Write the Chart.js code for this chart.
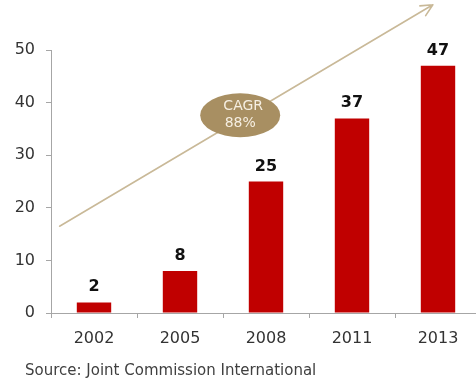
<!DOCTYPE html>
<html>
<head>
<meta charset="utf-8">
<script src="https://cdn.jsdelivr.net/npm/chart.js@4.4.1/dist/chart.umd.min.js"></script>
<style>
  html, body { margin:0; padding:0; background:#fff; overflow:hidden; }
  #wrap { position:relative; width:476px; height:392px; overflow:hidden; }
  #chart { position:absolute; left:0; top:0; }
  #source {
    position:absolute; left:25px; top:361px;
    font:15px "DejaVu Sans", Verdana, sans-serif; color:#404040;
    white-space:nowrap;
  }
</style>
</head>
<body>
<div id="wrap">
  <canvas id="chart" width="490" height="392"></canvas>
  <div id="source">Source: Joint Commission International</div>
</div>
<script>
/* accredited hospitals per year */
const years      = ['2002', '2005', '2008', '2011', '2013'];
const hospitals  = [2, 8, 25, 37, 47];
const yMax       = 50;
const yStep      = 10;
const cagrLines  = ['CAGR', '88%'];

const FONT = '"DejaVu Sans", Verdana, sans-serif';
const AXIS = '#a6a6a6';

/* bold numbers on top of each bar */
const barValues = {
  id: 'barValues',
  afterDatasetsDraw(chart) {
    const ctx = chart.ctx;
    const meta = chart.getDatasetMeta(0);
    ctx.save();
    ctx.font = 'bold 16px ' + FONT;
    ctx.fillStyle = '#111';
    ctx.textAlign = 'center';
    ctx.textBaseline = 'alphabetic';
    meta.data.forEach((bar, i) => {
      ctx.fillText(String(hospitals[i]), bar.x, bar.y - 11);
    });
    ctx.restore();
  }
};

/* growth arrow with the CAGR bubble, placed in axis units */
const growthArrow = {
  id: 'growthArrow',
  afterDraw(chart, args, opts) {
    const x = chart.scales.x, y = chart.scales.y, ctx = chart.ctx;
    const x0 = x.getPixelForValue(opts.from[0]), y0 = y.getPixelForValue(opts.from[1]);
    const x1 = x.getPixelForValue(opts.to[0]),   y1 = y.getPixelForValue(opts.to[1]);
    ctx.save();
    ctx.strokeStyle = '#c9b998';
    ctx.lineWidth = 1.6;
    ctx.lineCap = 'round';
    ctx.beginPath();
    ctx.moveTo(x0, y0);
    ctx.lineTo(x1, y1);
    const a = Math.atan2(y1 - y0, x1 - x0);
    [0.45, -0.45].forEach(d => {
      ctx.moveTo(x1, y1);
      ctx.lineTo(x1 - 13 * Math.cos(a + d), y1 - 13 * Math.sin(a + d));
    });
    ctx.stroke();

    const cx = x.getPixelForValue(opts.bubble[0]), cy = y.getPixelForValue(opts.bubble[1]);
    ctx.fillStyle = '#a88f62';
    ctx.beginPath();
    ctx.ellipse(cx, cy, 40, 22, 0, 0, Math.PI * 2);
    ctx.fill();
    ctx.fillStyle = '#f6efe2';
    ctx.font = '14px ' + FONT;
    ctx.textAlign = 'center';
    ctx.textBaseline = 'middle';
    ctx.fillText(cagrLines[0], cx + 3, cy - 9);
    ctx.fillText(cagrLines[1], cx, cy + 8);
    ctx.restore();
  }
};

new Chart(document.getElementById('chart'), {
  type: 'bar',
  data: {
    labels: years,
    datasets: [{
      data: hospitals,
      backgroundColor: '#c00000',
      borderWidth: 0,
      barPercentage: 0.4,
      categoryPercentage: 1.0,
    }],
  },
  options: {
    responsive: false,
    animation: false,
    layout: { padding: { top: 50, right: 9, bottom: 39, left: 0 } },
    plugins: {
      legend: { display: false },
      tooltip: { enabled: false },
      growthArrow: { from: [-0.4, 16.5], to: [3.94, 58.6], bubble: [1.70, 37.6] },
    },
    scales: {
      x: {
        grid: { display: true, drawOnChartArea: false, offset: true, color: AXIS, tickLength: 5 },
        border: { color: AXIS, width: 1 },
        ticks: { color: '#333', padding: 11, font: { family: FONT, size: 16 } },
        afterFit: s => { s.height = 40; },
      },
      y: {
        min: 0, max: yMax,
        grid: { display: true, drawOnChartArea: false, color: AXIS, tickLength: 5 },
        border: { color: AXIS, width: 1 },
        ticks: { stepSize: yStep, color: '#333', padding: 11, font: { family: FONT, size: 16 } },
        afterFit: s => { s.width = 51; },
      },
    },
  },
  plugins: [barValues, growthArrow],
});
</script>
</body>
</html>
